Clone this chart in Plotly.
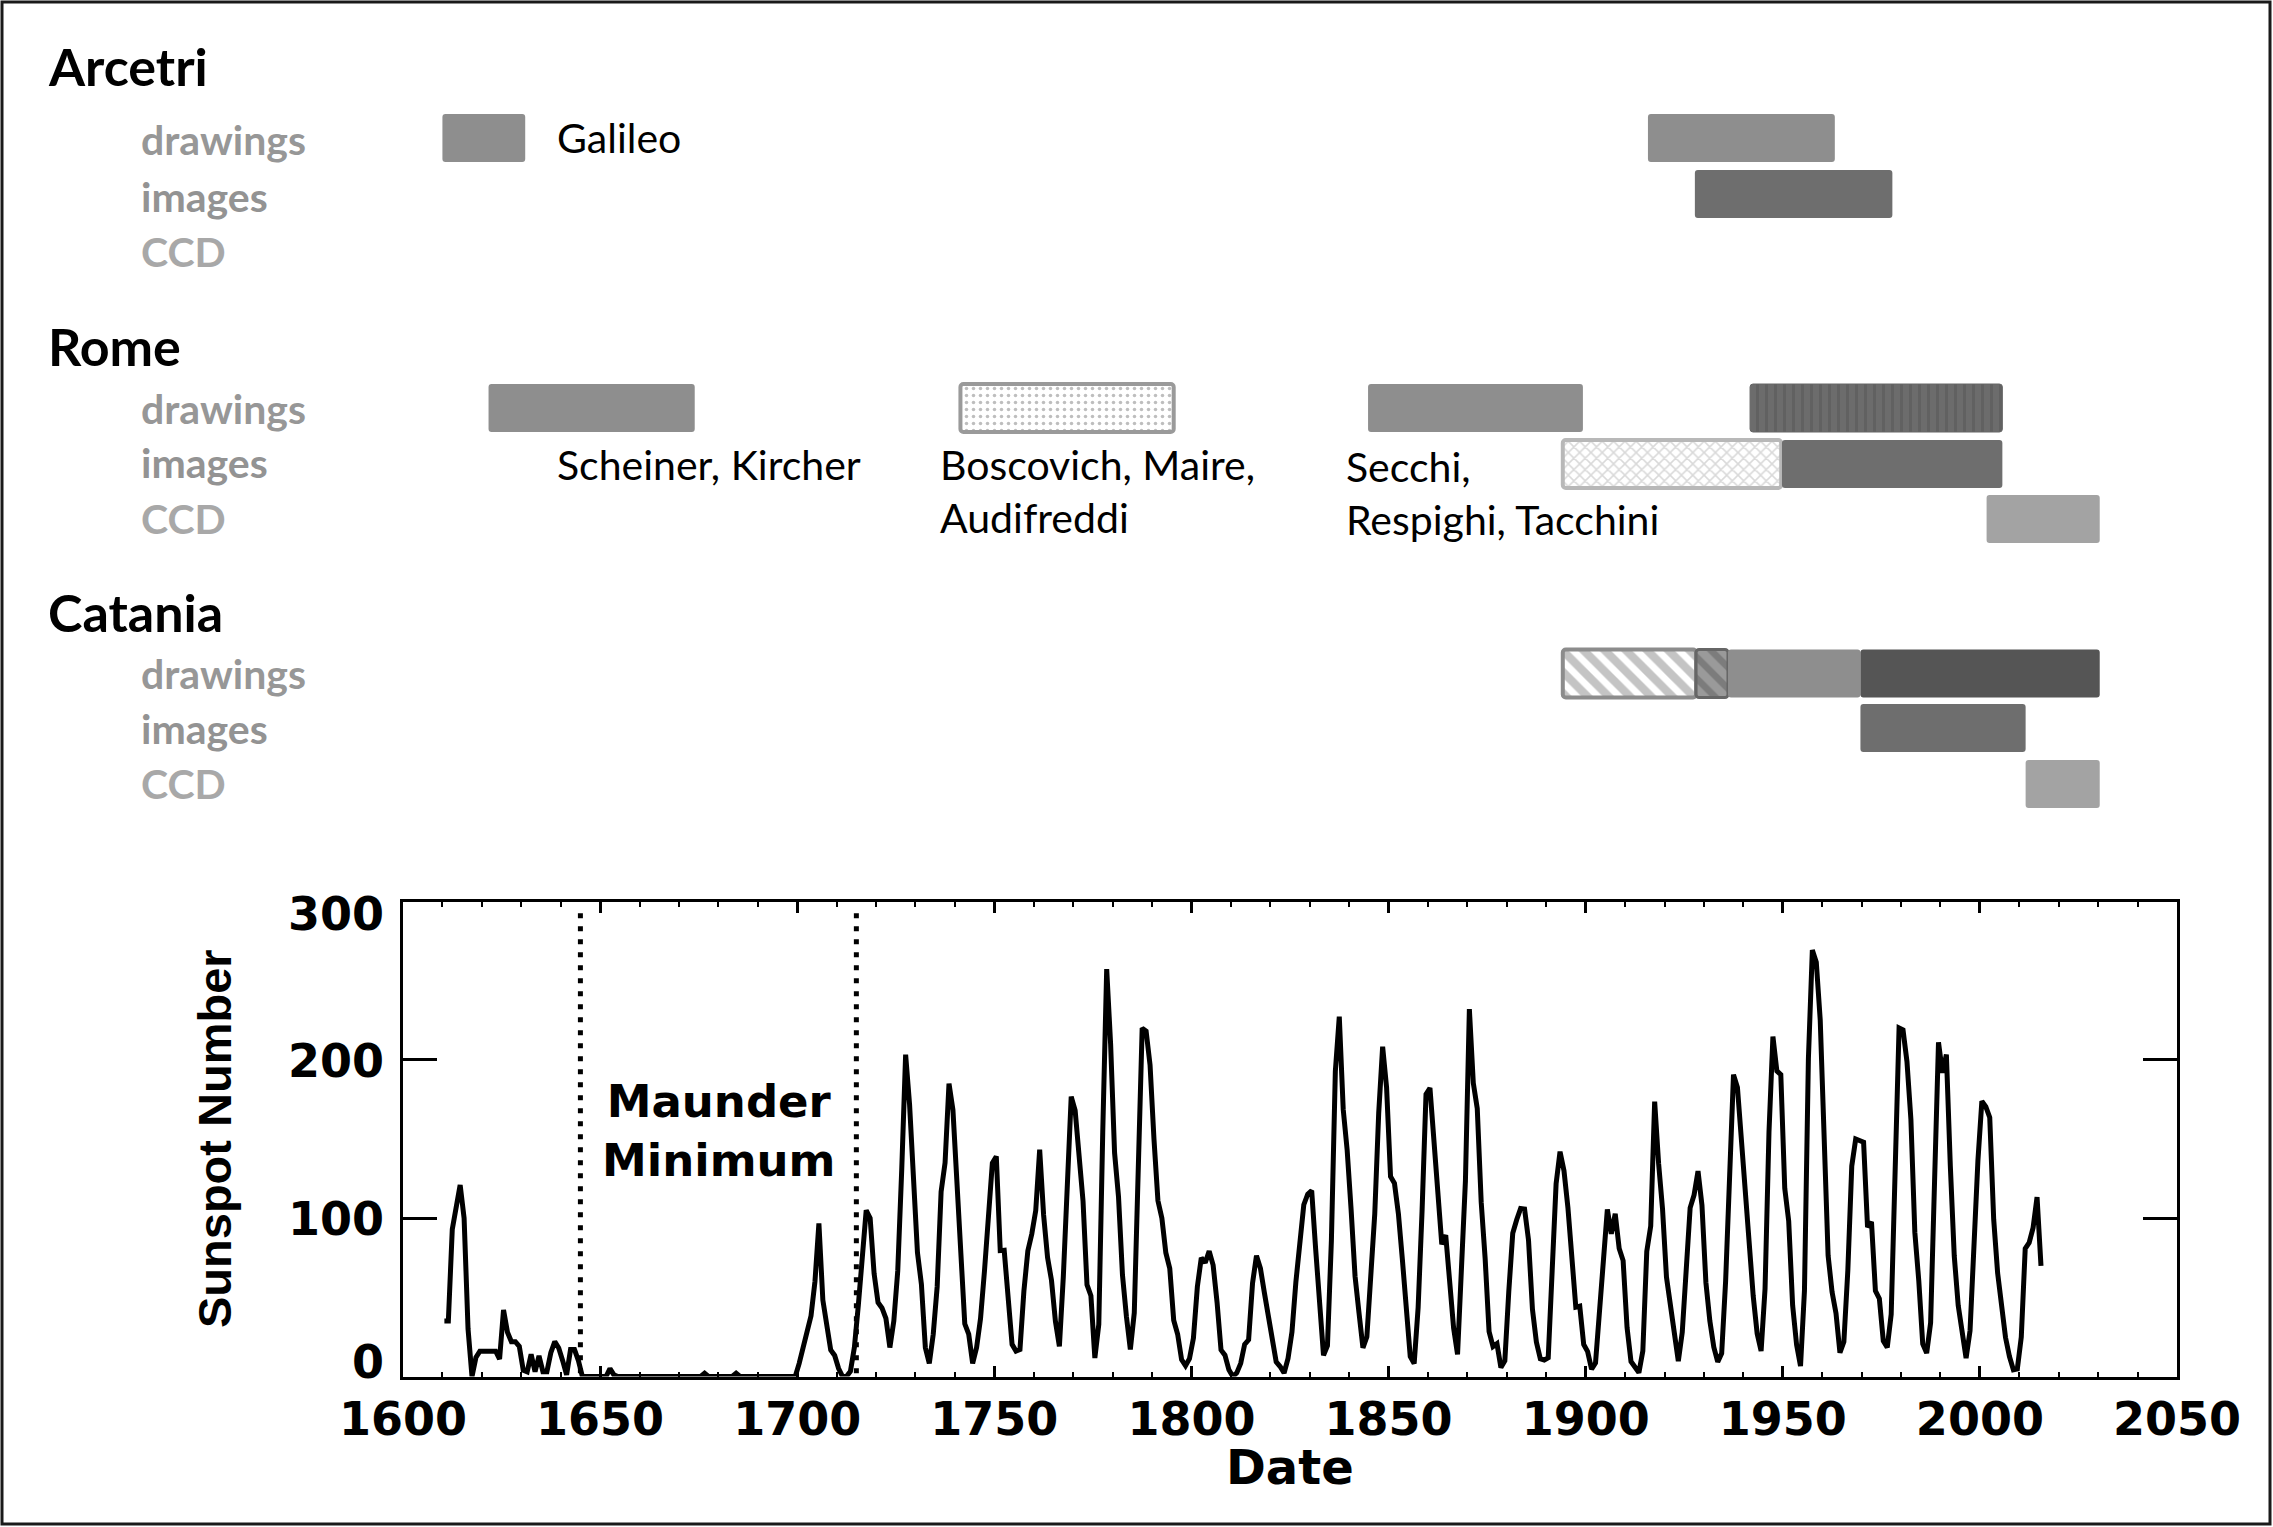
import plotly.graph_objects as go

W, H = 2273, 1527

# ---------------- DATA ----------------
# Yearly sunspot number (plotted at mid-year)
early_years = list(range(1610, 1700))
early_ssn = [
    35, 35, 93, 108, 121, 100, 30, 0, 12, 16,
    16, 16, 16, 16, 11, 42, 28, 22, 22, 19,
    4, 3, 14, 3, 13, 3, 3, 15, 22, 18,
    10, 1, 17, 17, 10, 0, 0, 0, 0, 0,
    0, 0, 5, 1, 0, 0, 0, 0, 0, 0,
    0, 0, 0, 0, 0, 0, 0, 0, 0, 0,
    0, 0, 0, 0, 0, 0, 2, 0, 0, 0,
    0, 0, 0, 0, 2, 0, 0, 0, 0, 0,
    0, 0, 0, 0, 0, 0, 0, 0, 0, 0,
]
modern_years = list(range(1700, 2016))
modern_ssn = [
    8.3, 18.3, 26.7, 38.3, 60.0, 96.7, 48.3, 33.3, 16.7, 13.3,
    5.0, 0.0, 0.0, 3.3, 18.3, 45.0, 78.3, 105.0, 100.0, 65.0,
    46.7, 43.3, 36.7, 18.3, 35.0, 66.7, 130.0, 203.3, 171.7, 121.7,
    78.3, 58.3, 18.3, 8.3, 26.7, 56.7, 116.7, 135.0, 185.0, 168.3,
    121.7, 66.7, 33.3, 26.7, 8.3, 18.3, 36.7, 66.7, 100.0, 134.8,
    139.0, 79.5, 79.7, 51.2, 20.3, 16.0, 17.0, 54.0, 79.3, 90.0,
    104.8, 143.2, 102.0, 75.2, 60.7, 34.8, 19.0, 63.0, 116.3, 176.8,
    168.0, 136.0, 110.8, 58.0, 51.0, 11.7, 33.0, 154.2, 257.3, 209.8,
    141.3, 113.5, 64.2, 38.0, 17.0, 40.2, 138.2, 220.0, 218.2, 196.8,
    149.8, 111.0, 100.0, 78.2, 68.3, 35.5, 26.7, 10.7, 6.8, 11.3,
    24.2, 56.7, 75.0, 71.8, 79.2, 70.3, 46.8, 16.8, 13.5, 4.2,
    0.0, 2.3, 8.3, 20.3, 23.2, 59.0, 76.3, 68.3, 52.9, 38.5,
    24.2, 9.2, 6.3, 2.2, 11.4, 28.2, 59.9, 83.0, 108.5, 115.2,
    117.4, 80.8, 44.3, 13.4, 19.5, 85.8, 192.7, 227.3, 168.7, 143.0,
    105.5, 63.3, 40.3, 18.1, 25.1, 65.8, 102.7, 166.3, 208.3, 182.5,
    126.3, 122.0, 102.7, 74.1, 39.0, 12.7, 8.2, 43.4, 104.4, 178.3,
    182.2, 146.6, 112.1, 83.5, 89.3, 57.8, 30.7, 13.9, 62.8, 123.6,
    232.0, 185.3, 169.2, 110.1, 74.5, 28.3, 18.9, 20.7, 5.7, 10.0,
    53.7, 90.5, 99.0, 106.1, 105.8, 86.3, 42.4, 21.8, 11.2, 10.4,
    11.8, 59.5, 121.7, 142.0, 130.0, 106.6, 69.4, 43.8, 44.4, 20.2,
    15.7, 4.6, 8.5, 40.8, 70.1, 105.5, 90.1, 102.8, 80.9, 73.2,
    30.9, 9.5, 6.0, 2.4, 16.1, 79.0, 95.0, 173.6, 134.6, 105.7,
    62.7, 43.5, 23.7, 9.7, 27.9, 74.0, 106.5, 114.7, 129.7, 108.2,
    59.4, 35.1, 18.6, 9.2, 14.6, 60.2, 132.8, 190.6, 182.6, 148.0,
    113.0, 79.2, 50.8, 27.1, 16.1, 55.3, 154.3, 214.7, 193.0, 190.7,
    118.9, 98.3, 45.0, 20.1, 6.6, 54.2, 200.7, 269.3, 261.7, 225.1,
    159.0, 76.4, 53.4, 39.9, 15.0, 22.0, 66.8, 132.9, 150.0, 149.4,
    148.0, 94.4, 97.6, 54.1, 49.2, 22.5, 18.4, 39.3, 131.0, 220.1,
    218.9, 198.9, 162.4, 91.0, 60.5, 20.6, 14.8, 33.9, 123.0, 211.1,
    191.8, 203.3, 133.0, 76.1, 44.9, 25.1, 11.6, 28.9, 88.3, 136.3,
    173.9, 170.4, 163.6, 99.3, 65.3, 45.8, 24.7, 12.6, 4.2, 4.8,
    24.9, 80.8, 84.5, 94.0, 113.3, 69.8,
]
maunder_bounds = [1645, 1715]

x_ticks = [1600, 1650, 1700, 1750, 1800, 1850, 1900, 1950, 2000, 2050]
y_ticks = [0, 100, 200, 300]

sites = ["Arcetri", "Rome", "Catania"]
rows = ["drawings", "images", "CCD"]

# observation archive segments (years)
bar_site = ["Arcetri", "Arcetri", "Arcetri",
            "Rome", "Rome", "Rome", "Rome", "Rome", "Rome", "Rome",
            "Catania", "Catania", "Catania", "Catania", "Catania", "Catania"]
bar_row = ["drawings", "drawings", "images",
           "drawings", "drawings", "drawings", "drawings", "images", "images", "CCD",
           "drawings", "drawings", "drawings", "drawings", "images", "CCD"]
bar_start = [1610, 1915.8, 1927.7,
             1621.7, 1741.4, 1844.8, 1941.7, 1894.2, 1949.8, 2001.7,
             1894.2, 1928.0, 1936.1, 1969.7, 1969.7, 2011.6]
bar_end = [1631, 1963.2, 1977.8,
           1674.0, 1795.5, 1899.3, 2005.7, 1949.6, 2005.7, 2030.4,
           1928.0, 1936.1, 1969.7, 2030.4, 2011.6, 2030.4]
bar_kind = ["mid", "mid", "dark",
            "mid", "dotted", "mid", "striped", "crosshatch", "dark", "light",
            "hatched", "hatched_dark", "mid", "darkest", "dark", "light"]

observers = ["Galileo", "Scheiner, Kircher", "Boscovich, Maire,<br>Audifreddi",
             "Secchi,<br>Respighi, Tacchini"]

# ---------------- LAYOUT HELPERS ----------------
def px(xp):
    return xp / W

def py(yp):
    return 1 - yp / H

PLOT_L, PLOT_R, PLOT_T, PLOT_B = 403, 2177, 901.5, 1376.5
TOP_B = 860  # top panel spans pixel rows 0..860, y value == pixel row

row_y = {
    ("Arcetri", "drawings"): 138, ("Arcetri", "images"): 194, ("Arcetri", "CCD"): 252,
    ("Rome", "drawings"): 408, ("Rome", "images"): 464, ("Rome", "CCD"): 519,
    ("Catania", "drawings"): 673.5, ("Catania", "images"): 728, ("Catania", "CCD"): 784,
}
label_y = {
    ("Arcetri", "drawings"): 139, ("Arcetri", "images"): 197, ("Arcetri", "CCD"): 252,
    ("Rome", "drawings"): 408, ("Rome", "images"): 462, ("Rome", "CCD"): 518,
    ("Catania", "drawings"): 673.5, ("Catania", "images"): 728.5, ("Catania", "CCD"): 783.5,
}
site_y = {"Arcetri": 66, "Rome": 346, "Catania": 612}
row_color = {"drawings": "#979797", "images": "#939393", "CCD": "#a8a8a8"}
observer_pos = [(555, 137), (555, 464), (938, 491), (1344, 493.5)]
ytick_shift = {0: 15, 100: -1, 200: -1, 300: -12}

STYLES = {
    "mid": dict(color="#8e8e8e", line=("#8e8e8e", 0)),
    "dark": dict(color="#6e6e6e", line=("#6e6e6e", 0)),
    "darkest": dict(color="#555555", line=("#555555", 0)),
    "light": dict(color="#a3a3a3", line=("#a3a3a3", 0)),
    "dotted": dict(color="#ffffff", line=("#9a9a9a", 4),
                   pattern=dict(shape=".", fgcolor="#7e7e7e", size=7, solidity=0.2)),
    "striped": dict(color="#6c6c6c", line=("#666666", 1),
                    pattern=dict(shape="|", fgcolor="#555555", size=9, solidity=0.35)),
    "crosshatch": dict(color="#ffffff", line=("#b8b8b8", 4),
                       pattern=dict(shape="x", fgcolor="#b4b4b4", size=8, solidity=0.35)),
    "hatched": dict(color="#ffffff", line=("#8c8c8c", 4),
                    pattern=dict(shape="\\", fgcolor="#8a8a8a", size=15, solidity=0.55)),
    "hatched_dark": dict(color="#9a9a9a", line=("#666666", 3),
                         pattern=dict(shape="\\", fgcolor="#5e5e5e", size=15, solidity=0.45)),
}

fig = go.Figure()

# ---------------- TOP PANEL BARS ----------------
for s, r, a, b, k in zip(bar_site, bar_row, bar_start, bar_end, bar_kind):
    st = STYLES[k]
    marker = dict(color=st["color"], line=dict(color=st["line"][0], width=st["line"][1]),
                  cornerradius=3)
    if "pattern" in st:
        p = dict(st["pattern"])
        p["fillmode"] = "overlay"
        marker["pattern"] = p
    fig.add_trace(go.Bar(
        orientation="h", y=[row_y[(s, r)]], x=[b - a], base=[a], width=48,
        marker=marker, xaxis="x2", yaxis="y2", showlegend=False, hoverinfo="skip",
    ))

# ---------------- SUNSPOT LINE ----------------
all_years = early_years + modern_years
all_ssn = early_ssn + modern_ssn
fig.add_trace(go.Scatter(
    x=[yr + 0.5 for yr in all_years], y=all_ssn, mode="lines",
    line=dict(color="black", width=5), showlegend=False, hoverinfo="skip",
    xaxis="x", yaxis="y",
))

shapes = []
for xb in maunder_bounds:
    shapes.append(dict(type="line", xref="x", yref="y", x0=xb, x1=xb, y0=2, y1=297,
                       line=dict(color="black", width=5, dash="5px,8px")))
# outer frame of the whole figure
shapes.append(dict(type="rect", xref="paper", yref="paper",
                   x0=px(2), x1=px(2270), y0=py(1524), y1=py(2),
                   line=dict(color="#1a1a1a", width=3)))

annotations = []
for s in sites:
    annotations.append(dict(text="<b>%s</b>" % s, xref="paper", yref="paper",
                            x=px(46), y=py(site_y[s]), xanchor="left", yanchor="middle",
                            showarrow=False,
                            font=dict(family="Lato", size=52, color="black")))
    for r in rows:
        annotations.append(dict(text="<b>%s</b>" % r, xref="paper", yref="paper",
                                x=px(139), y=py(label_y[(s, r)]), xanchor="left",
                                yanchor="middle", showarrow=False,
                                font=dict(family="Lato", size=41, color=row_color[r])))
for t, (ox, oy) in zip(observers, observer_pos):
    annotations.append(dict(text=t, xref="paper", yref="paper", x=px(ox), y=py(oy),
                            xanchor="left", yanchor="middle", align="left",
                            showarrow=False,
                            font=dict(family="Lato", size=41, color="black")))

mm_x = sum(maunder_bounds) / 2
annotations.append(dict(text="<b>Maunder<br>Minimum</b>", xref="x", yref="y", x=mm_x,
                        y=155, showarrow=False, xanchor="center", yanchor="middle",
                        align="center",
                        font=dict(family="DejaVu Sans", size=45, color="black")))

# y tick labels (IDL-style placement: end labels pulled inside the range)
for v in y_ticks:
    annotations.append(dict(text="<b>%d</b>" % v, xref="paper", yref="y", x=px(386), y=v,
                            yshift=ytick_shift[v], xanchor="right", yanchor="middle",
                            showarrow=False,
                            font=dict(family="DejaVu Sans", size=46, color="black")))
# axis titles
annotations.append(dict(text="<b>Sunspot Number</b>", xref="paper", yref="paper",
                        x=px(214), y=py((PLOT_T + PLOT_B) / 2), textangle=-90,
                        xanchor="center", yanchor="middle", showarrow=False,
                        font=dict(family="Liberation Sans", size=47, color="black")))
annotations.append(dict(text="<b>Date</b>", xref="paper", yref="paper",
                        x=px((PLOT_L + PLOT_R) / 2), y=py(1467),
                        xanchor="center", yanchor="middle", showarrow=False,
                        font=dict(family="DejaVu Sans", size=48, color="black")))

fig.update_layout(
    width=W, height=H,
    margin=dict(l=0, r=0, t=0, b=0, autoexpand=False),
    paper_bgcolor="white", plot_bgcolor="white",
    barmode="overlay",
    showlegend=False,
    shapes=shapes,
    annotations=annotations,
    xaxis=dict(
        domain=[px(PLOT_L), px(PLOT_R)], range=[1600, 2050], anchor="y",
        tickvals=x_ticks, ticktext=[str(v) for v in x_ticks],
        ticks="inside", ticklen=11, tickwidth=2.5, tickcolor="black",
        showline=True, linewidth=3, linecolor="black", mirror="ticks",
        showgrid=False, zeroline=False, automargin=False,
        minor=dict(dtick=10, tick0=1600, ticks="inside", ticklen=5, tickwidth=2,
                   tickcolor="black", showgrid=False),
        tickfont=dict(family="DejaVu Sans", size=46, color="black", weight="bold"),
    ),
    yaxis=dict(
        domain=[py(PLOT_B), py(PLOT_T)], range=[0, 300], anchor="x",
        tickvals=y_ticks, showticklabels=False,
        ticks="inside", ticklen=34, tickwidth=2.5, tickcolor="black",
        showline=True, linewidth=3, linecolor="black", mirror="ticks",
        showgrid=False, zeroline=False, automargin=False,
    ),
    xaxis2=dict(domain=[px(PLOT_L), px(PLOT_R)], range=[1600, 2050], anchor="y2",
                visible=False, showgrid=False, zeroline=False, fixedrange=True),
    yaxis2=dict(domain=[py(TOP_B), 1], range=[TOP_B, 0], anchor="x2",
                visible=False, showgrid=False, zeroline=False, fixedrange=True),
)

fig.write_html("out.html")
